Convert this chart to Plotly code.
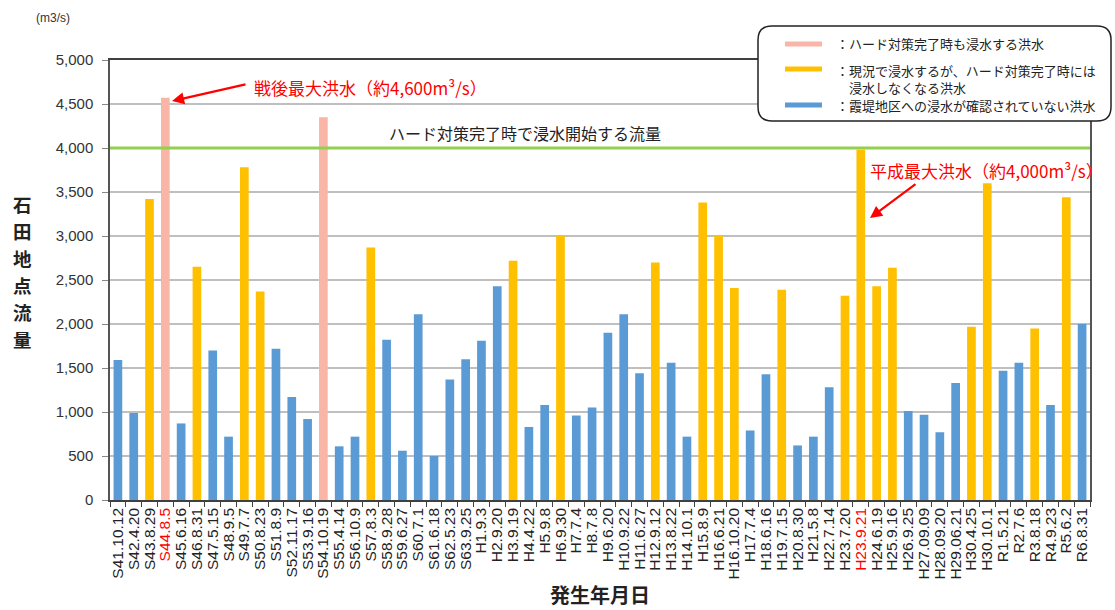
import plotly.graph_objects as go

# Flood events at the Ishida gauge (date of occurrence, peak discharge m3/s)
dates = [
    "S41.10.12", "S42.4.20", "S43.8.29", "S44.8.5", "S45.6.16", "S46.8.31",
    "S47.5.15", "S48.9.5", "S49.7.7", "S50.8.23", "S51.8.9", "S52.11.17",
    "S53.9.16", "S54.10.19", "S55.4.14", "S56.10.9", "S57.8.3", "S58.9.28",
    "S59.6.27", "S60.7.1", "S61.6.18", "S62.5.23", "S63.9.25", "H1.9.3",
    "H2.9.20", "H3.9.19", "H4.4.22", "H5.9.8", "H6.9.30", "H7.7.4",
    "H8.7.8", "H9.6.20", "H10.9.22", "H11.6.27", "H12.9.12", "H13.8.22",
    "H14.10.1", "H15.8.9", "H16.6.21", "H16.10.20", "H17.7.4", "H18.6.16",
    "H19.7.15", "H20.8.30", "H21.5.8", "H22.7.14", "H23.7.20", "H23.9.21",
    "H24.6.19", "H25.9.16", "H26.9.25", "H27.09.09", "H28.09.20", "H29.06.21",
    "H30.4.25", "H30.10.1", "R1.5.21", "R2.7.6", "R3.8.18", "R4.9.23",
    "R5.6.2", "R6.8.31",
]

discharge = [
    1590, 990, 3420, 4570, 870, 2650,
    1700, 720, 3780, 2370, 1720, 1170,
    920, 4350, 610, 720, 2870, 1820,
    560, 2110, 500, 1370, 1600, 1810,
    2430, 2720, 830, 1080, 3000, 960,
    1050, 1900, 2110, 1440, 2700, 1560,
    720, 3380, 3000, 2410, 790, 1430,
    2390, 620, 720, 1280, 2320, 3980,
    2430, 2640, 1010, 970, 770, 1330,
    1970, 3600, 1470, 1560, 1950, 1080,
    3440, 2000,
]

# Class: "P" floods even after works, "Y" floods now but not after works,
# "B" no inundation confirmed in the levee district
flood_class = [
    "B", "B", "Y", "P", "B", "Y",
    "B", "B", "Y", "Y", "B", "B",
    "B", "P", "B", "B", "Y", "B",
    "B", "B", "B", "B", "B", "B",
    "B", "Y", "B", "B", "Y", "B",
    "B", "B", "B", "B", "Y", "B",
    "B", "Y", "Y", "Y", "B", "B",
    "Y", "B", "B", "B", "Y", "Y",
    "Y", "Y", "B", "B", "B", "B",
    "Y", "Y", "B", "B", "Y", "B",
    "Y", "B",
]

highlighted_dates = ["S44.8.5", "H23.9.21"]
y_ticks = [0, 500, 1000, 1500, 2000, 2500, 3000, 3500, 4000, 4500, 5000]
threshold = 4000

class_colors = {"P": "#F9B6A7", "Y": "#FFC000", "B": "#5B9BD5"}
legend_items = [
    ("P", "：ハード対策完了時も浸水する洪水"),
    ("Y", "：現況で浸水するが、ハード対策完了時には<br>　浸水しなくなる洪水"),
    ("B", "：霞堤地区への浸水が確認されていない洪水"),
]

JP = "Noto Sans CJK JP"
LAT = "Liberation Sans, Arial, sans-serif"

W, H = 1115, 610
ML, MR, MT, MB = 110, 25, 60, 110
PW, PH = W - ML - MR, H - MT - MB


def px(x):
    return (x - ML) / PW


def py(y):
    return (H - MB - y) / PH


def label(fig, x, y, text, font, xanchor="center", yanchor="middle", align="center"):
    fig.add_annotation(xref="paper", yref="paper", x=px(x), y=py(y),
                       xanchor=xanchor, yanchor=yanchor, align=align,
                       text=text, showarrow=False, font=font)


fig = go.Figure()
fig.add_trace(go.Bar(
    x=dates,
    y=discharge,
    marker=dict(color=[class_colors[c] for c in flood_class], line=dict(width=0)),
    width=0.55,
    showlegend=False,
    hovertemplate="%{x}: %{y:,} m3/s<extra></extra>",
))

ticktext = [
    f"<span style='color:#FF0000'>{d}</span>" if d in highlighted_dates else d
    for d in dates
]

fig.update_layout(
    width=W, height=H,
    margin=dict(l=ML, r=MR, t=MT, b=MB, pad=0),
    paper_bgcolor="white", plot_bgcolor="white",
    font=dict(family=LAT, color="#222222"),
    xaxis=dict(
        type="category",
        categoryorder="array", categoryarray=dates,
        tickmode="array", tickvals=dates, ticktext=ticktext,
        tickangle=-90,
        tickfont=dict(family=LAT, size=15.5, color="#222222"),
        ticks="outside", ticklen=5, tickcolor="#404040", tickwidth=1,
        tickson="boundaries",
        showline=True, linecolor="#404040", linewidth=1.5, mirror=True,
        showgrid=False,
        range=[-0.5, len(dates) - 0.5],
    ),
    yaxis=dict(
        range=[0, 5000],
        tickmode="array", tickvals=y_ticks,
        ticktext=[f"{v:,}" for v in y_ticks],
        tickfont=dict(family=LAT, size=15, color="#333333"),
        ticks="outside", ticklen=6, tickcolor="#888888",
        ticklabelstandoff=6,
        showline=True, linecolor="#555555", linewidth=1.5, mirror=True,
        showgrid=True, gridcolor="#BFBFBF", gridwidth=1.5,
        zeroline=False,
    ),
)

# Discharge at which flooding starts after the works are finished
fig.add_shape(type="line", xref="paper", yref="y", x0=0, x1=1,
              y0=threshold, y1=threshold,
              line=dict(color="#92D050", width=3), layer="above")
label(fig, 525, 133, "ハード対策完了時で浸水開始する流量",
      dict(family=JP, size=16, color="#222222"))

# Callouts for the two largest floods
label(fig, 252, 87, "戦後最大洪水（約4,600m³/s）",
      dict(family=JP, size=17, color="#FF0000"), xanchor="left")
fig.add_annotation(xref="paper", yref="paper", x=px(172), y=py(101),
                   ax=75, ay=-17, text="", showarrow=True,
                   arrowhead=2, arrowsize=1.1, arrowwidth=2.2, arrowcolor="#FF0000")
label(fig, 868, 170, "平成最大洪水（約4,000m³/s）",
      dict(family=JP, size=17, color="#FF0000"), xanchor="left")
fig.add_annotation(xref="paper", yref="paper", x=px(870), y=py(218),
                   ax=47, ay=-35, text="", showarrow=True,
                   arrowhead=2, arrowsize=1.1, arrowwidth=2.2, arrowcolor="#FF0000")

# Axis titles and unit
for i, ch in enumerate("石田地点流量"):
    label(fig, 22, 204 + 27 * i, f"<b>{ch}</b>",
          dict(family=JP, size=18.5, color="#222222"))
label(fig, 53, 18, "(m3/s)", dict(family=LAT, size=12, color="#333333"))
label(fig, 600, 594, "<b>発生年月日</b>", dict(family=JP, size=20, color="#222222"))

# Legend panel with rounded corners
x0, x1, y0, y1 = 758, 1111, 26, 121
r = 14
box_path = (
    f"M {px(x0 + r)},{py(y0)} L {px(x1 - r)},{py(y0)} "
    f"Q {px(x1)},{py(y0)} {px(x1)},{py(y0 + r)} "
    f"L {px(x1)},{py(y1 - r)} Q {px(x1)},{py(y1)} {px(x1 - r)},{py(y1)} "
    f"L {px(x0 + r)},{py(y1)} Q {px(x0)},{py(y1)} {px(x0)},{py(y1 - r)} "
    f"L {px(x0)},{py(y0 + r)} Q {px(x0)},{py(y0)} {px(x0 + r)},{py(y0)} Z"
)
fig.add_shape(type="path", xref="paper", yref="paper", path=box_path,
              fillcolor="white", line=dict(color="#222222", width=1.5),
              layer="above")

legend_rows = [44, 69, 105]
text_rows = [44, 79, 106]
for (cls, text), ys, yt in zip(legend_items, legend_rows, text_rows):
    fig.add_shape(type="rect", xref="paper", yref="paper",
                  x0=px(785), x1=px(822), y0=py(ys - 2.5), y1=py(ys + 2.5),
                  fillcolor=class_colors[cls], line=dict(width=0), layer="above")
    label(fig, 834, yt, text, dict(family=JP, size=13, color="#222222"),
          xanchor="left", align="left")

fig.write_html("out.html")
